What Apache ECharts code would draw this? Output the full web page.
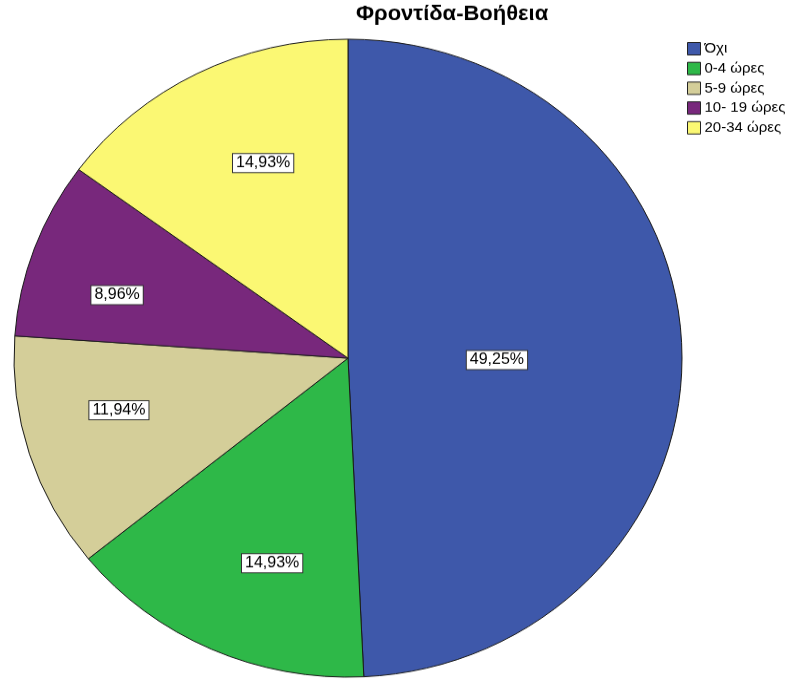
<!DOCTYPE html>
<html>
<head>
<meta charset="utf-8">
<script src="https://cdn.jsdelivr.net/npm/echarts@6/dist/echarts.min.js"></script>
<style>
  html, body { margin: 0; padding: 0; background: #fff; overflow: hidden; }
  #wrap { width: 792px; height: 679px; overflow: hidden; }
  /* the pie is drawn slightly flattened (ellipse), so the canvas is squeezed vertically */
  #chart { width: 792px; height: 711px; transform: scaleY(0.955); transform-origin: 0 0; }
</style>
</head>
<body>
<div id="wrap"><div id="chart"></div></div>
<script>
// Categories and shares (percent of respondents)
const categories = ['Όχι', '0-4 ώρες', '5-9 ώρες', '10- 19 ώρες', '20-34 ώρες'];
const percents = [49.25, 14.93, 11.94, 8.96, 14.93];
const titleText = 'Φροντίδα-Βοήθεια';

// Styling
const colors = ['#3E58AA', '#2EB848', '#D4CE99', '#78287C', '#FBF873'];
const pieCenter = [348, 375];
const pieRadius = 334;
// value boxes: distance from the centre (fraction of radius) and a small angular nudge (degrees)
const labelFrac = [0.446, 0.682, 0.705, 0.719, 0.662];
const labelNudge = [2.1, -4.7, 4.1, -4.2, 4.3];

const total = percents.reduce((a, b) => a + b, 0);
// mid-angle of each slice, degrees clockwise from 12 o'clock
const midAngles = [];
let acc = 0;
percents.forEach(v => {
  midAngles.push((acc + v / 2) / total * 360);
  acc += v;
});

const chart = echarts.init(document.getElementById('chart'), null, { renderer: 'canvas' });

chart.setOption({
  animation: false,
  backgroundColor: '#fff',
  title: {
    text: titleText,
    left: 356,
    top: 4,
    padding: 0,
    textStyle: { fontFamily: 'Liberation Sans, Arial, sans-serif', fontSize: 22, fontWeight: 'bold', color: '#000' }
  },
  legend: {
    orient: 'vertical',
    left: 687,
    top: 43.5,
    padding: 0,
    itemWidth: 13,
    itemHeight: 13,
    itemGap: 5.7,
    icon: 'rect',
    data: categories,
    selectedMode: false,
    textStyle: { fontFamily: 'Liberation Sans, Arial, sans-serif', fontSize: 15, lineHeight: 14, color: '#000', padding: [0, 0, 0, -1] },
    itemStyle: { borderColor: '#222', borderWidth: 1 }
  },
  series: [{
    type: 'pie',
    center: pieCenter,
    radius: pieRadius,
    startAngle: 90,
    clockwise: true,
    avoidLabelOverlap: false,
    silent: true,
    data: categories.map((name, i) => ({
      name: name,
      value: percents[i],
      itemStyle: { color: colors[i] }
    })),
    itemStyle: { borderColor: '#1a1a1a', borderWidth: 1 },
    label: {
      show: true,
      position: 'inside',
      formatter: p => p.value.toFixed(2).replace('.', ',') + '%',
      fontFamily: 'Liberation Sans, Arial, sans-serif',
      fontSize: 16,
      color: '#000',
      backgroundColor: '#fff',
      borderColor: '#333',
      borderWidth: 1,
      padding: [2, 3, 1, 3]
    },
    labelLine: { show: false },
    labelLayout: function (params) {
      const i = params.dataIndex;
      const a = (midAngles[i] + labelNudge[i]) * Math.PI / 180;
      const d = labelFrac[i] * pieRadius;
      return {
        x: pieCenter[0] + d * Math.sin(a),
        y: pieCenter[1] - d * Math.cos(a),
        align: 'center',
        verticalAlign: 'middle'
      };
    },
    emphasis: { disabled: true }
  }]
});
</script>
</body>
</html>
